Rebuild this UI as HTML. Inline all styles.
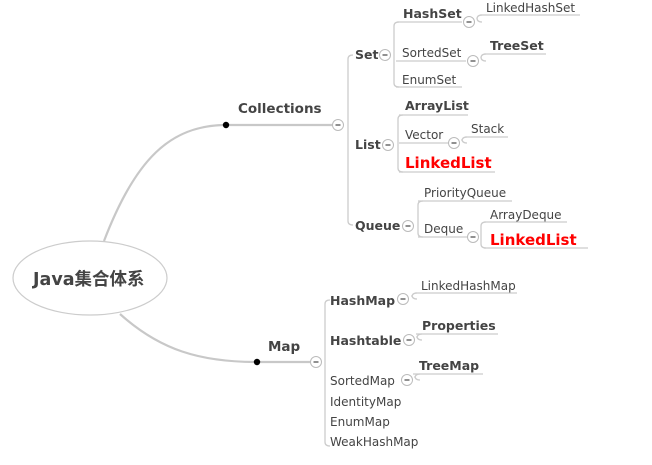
<!DOCTYPE html>
<html><head><meta charset="utf-8">
<style>
html,body{margin:0;padding:0;background:#fff;}
svg{display:block;}
text{font-family:"DejaVu Sans","Liberation Sans",sans-serif;fill:#444;}
.b{font-weight:bold;}
.r{fill:#f00;font-weight:bold;font-size:15px;}
</style></head>
<body>
<svg id="map" width="652" height="465" viewBox="0 0 652 465" xmlns="http://www.w3.org/2000/svg">
<g id="lines" fill="none" stroke="#ccc" stroke-width="1.3"></g>
<g id="thick" fill="none" stroke="#c8c8c8" stroke-width="2.2"></g>
<ellipse cx="90" cy="278" rx="77" ry="37" fill="#fff" stroke="#ccc" stroke-width="1.2"/>
<text x="33" y="285" class="b" style="font-size:17.5px;font-family:'DejaVu Sans','Noto Sans CJK SC',sans-serif;">Java集合体系</text>
<g id="nodes"></g>
<g id="toggles"></g>
</svg>
<script>
const nodeLabels = ["Collections","Set","HashSet","LinkedHashSet","SortedSet","TreeSet","EnumSet","List","ArrayList","Vector","Stack","LinkedList","Queue","PriorityQueue","Deque","ArrayDeque","LinkedList","Map","HashMap","LinkedHashMap","Hashtable","Properties","SortedMap","TreeMap","IdentityMap","EnumMap","WeakHashMap"];
const nodeX = [238,355,403,486,402,490,402,355,405,405,471,405,355,424,424,490,490,268,330,421,330,422,330,419,330,330,330];
const nodeY = [113,59,18,12,57,50,84,149,110,139,133,168,230,197,233,219,245,351,305,290,345,330,385,370,406,426,446];
const nodeStyle = ["B","b","b","n","n","b","n","b","b","n","n","r","b","n","n","n","r","B","b","n","b","b","n","b","n","n","n"];
const underlineY = [0,0,22,15,61,54,87,0,115,143,137,172,0,201,237,222,248,0,0,293,0,334,0,374,0,0,0];
const underlineEnd = [0,0,462,580,466,546,462,0,468,450,508,495,0,512,470,567,588,0,0,517,0,498,0,483,0,0,0];
const toggleX = [338,385,469,473,388,454,408,473,316,403,409,407];
const toggleY = [125,55,22,61,145,143,226,237,362,299,340,380];
const bracketX = [348,394,398,418,481,325,477,481,462,412,417,415];
const bracketTop = [55,22,115,201,222,300,15,54,137,293,334,374];
const bracketBot = [225,87,172,237,248,446,22,61,143,299,340,380];

const ns="http://www.w3.org/2000/svg";
const gN=document.getElementById('nodes'), gL=document.getElementById('lines'), gT=document.getElementById('toggles'), gK=document.getElementById('thick');
function mk(tag,attrs,parent){const e=document.createElementNS(ns,tag);for(const k in attrs)e.setAttribute(k,attrs[k]);parent.appendChild(e);return e;}

let p=mk('path',{d:"M104 241 C135 160 170 125 226 125 L333 125"},gK);


p=mk('path',{d:"M120 314 C160 350 200 362 257 362 L311 362"},gK);


let d=mk('circle',{cx:226,cy:125,r:3.2,fill:'#000'},gN);


d=mk('circle',{cx:257,cy:362,r:3.2,fill:'#000'},gN);



for(let i=0;i<bracketX.length;i++){
  const x=bracketX[i],t=bracketTop[i],b=bracketBot[i];
  const l=mk('path',{d:`M${x+5} ${t} Q${x} ${t} ${x} ${t+4} L${x} ${b-4} Q${x} ${b} ${x+5} ${b}`},gL);
  
  
}
for(let i=0;i<nodeLabels.length;i++){
  const st=nodeStyle[i];
  const size = st==='r'?15:(st==='B'?13.5:(st==='b'?12.5:12));
  const t=mk('text',{x:nodeX[i],y:nodeY[i],class:st==='n'?'':(st==='B'?'b':st),'font-size':size},gN);
  t.textContent=nodeLabels[i];
  
  
  if(underlineY[i]){
    const u=mk('line',{x1:nodeX[i]-6,y1:underlineY[i],x2:underlineEnd[i],y2:underlineY[i]},gL);
    
    
  }
}
for(let i=0;i<toggleX.length;i++){
  const g=mk('g',{},gT);
  
  
  mk('circle',{cx:toggleX[i],cy:toggleY[i],r:5.5,fill:'#fff',stroke:'#bbb','stroke-width':1},g);
  mk('line',{x1:toggleX[i]-2.5,y1:toggleY[i],x2:toggleX[i]+2.5,y2:toggleY[i],stroke:'#555','stroke-width':1.3},g);
}
</script>
</body></html>
